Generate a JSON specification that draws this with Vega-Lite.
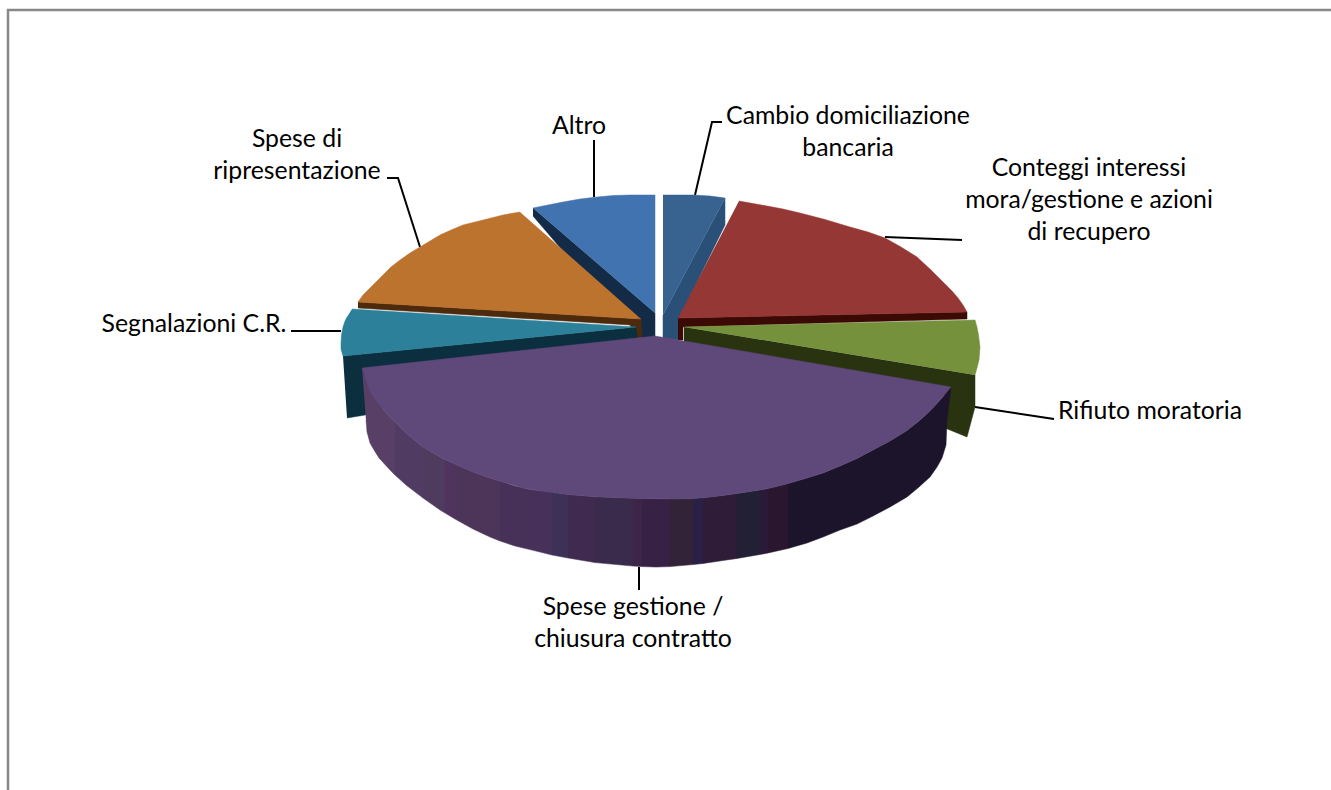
{
"$schema":"https://vega.github.io/schema/vega-lite/v6.json",
"width":1331,"height":790,"padding":0,
"autosize":"none",
"background":"white",
"config":{"view":{"stroke":null}},
"datasets":{
"slices":[
{"part":"altro side","i":1,"x":533,"y":208},{"part":"altro side","i":2,"x":655,"y":313},{"part":"altro side","i":3,"x":655,"y":338},{"part":"altro side","i":4,"x":640,"y":340},{"part":"altro side","i":5,"x":640,"y":322},{"part":"altro side","i":6,"x":560,"y":247.5},{"part":"altro side","i":7,"x":533,"y":216},
{"part":"altro","i":1,"x":533,"y":208},{"part":"altro","i":2,"x":548,"y":205},{"part":"altro","i":3,"x":563,"y":202},{"part":"altro","i":4,"x":580,"y":199},{"part":"altro","i":5,"x":597,"y":197},{"part":"altro","i":6,"x":613,"y":195.5},{"part":"altro","i":7,"x":630,"y":195},{"part":"altro","i":8,"x":655,"y":195},{"part":"altro","i":9,"x":655,"y":313},
{"part":"cambio side","i":1,"x":725,"y":198},{"part":"cambio side","i":2,"x":725,"y":225},{"part":"cambio side","i":3,"x":680,"y":317},{"part":"cambio side","i":4,"x":678,"y":340},{"part":"cambio side","i":5,"x":663,"y":338},{"part":"cambio side","i":6,"x":663,"y":315},
{"part":"cambio","i":1,"x":663,"y":195},{"part":"cambio","i":2,"x":693,"y":195},{"part":"cambio","i":3,"x":710,"y":196},{"part":"cambio","i":4,"x":725,"y":198},{"part":"cambio","i":5,"x":663,"y":315},
{"part":"orange side","i":1,"x":358,"y":302},{"part":"orange side","i":2,"x":641,"y":319},{"part":"orange side","i":3,"x":642,"y":340},{"part":"orange side","i":4,"x":635,"y":340},{"part":"orange side","i":5,"x":630,"y":325},{"part":"orange side","i":6,"x":358,"y":308},
{"part":"orange","i":1,"x":520,"y":212},{"part":"orange","i":2,"x":503,"y":215},{"part":"orange","i":3,"x":487,"y":219},{"part":"orange","i":4,"x":475,"y":222},{"part":"orange","i":5,"x":463,"y":225},{"part":"orange","i":6,"x":451,"y":230},{"part":"orange","i":7,"x":440,"y":235},{"part":"orange","i":8,"x":430,"y":241},{"part":"orange","i":9,"x":420,"y":247},{"part":"orange","i":10,"x":410,"y":253},{"part":"orange","i":11,"x":400,"y":260},{"part":"orange","i":12,"x":391,"y":267},{"part":"orange","i":13,"x":383,"y":275},{"part":"orange","i":14,"x":376,"y":282},{"part":"orange","i":15,"x":370,"y":288},{"part":"orange","i":16,"x":363,"y":295},{"part":"orange","i":17,"x":358,"y":302},{"part":"orange","i":18,"x":641,"y":319},
{"part":"teal side","i":1,"x":343,"y":356},{"part":"teal side","i":2,"x":636,"y":327},{"part":"teal side","i":3,"x":638,"y":342},{"part":"teal side","i":4,"x":400,"y":400},{"part":"teal side","i":5,"x":365,"y":415},{"part":"teal side","i":6,"x":347,"y":418},
{"part":"teal","i":1,"x":352,"y":309},{"part":"teal","i":2,"x":636,"y":327},{"part":"teal","i":3,"x":343,"y":356},{"part":"teal","i":4,"x":341,"y":349},{"part":"teal","i":5,"x":341,"y":343},{"part":"teal","i":6,"x":341.5,"y":335},{"part":"teal","i":7,"x":343,"y":327},{"part":"teal","i":8,"x":345,"y":321},{"part":"teal","i":9,"x":347,"y":317},
{"part":"red side","i":1,"x":678,"y":318},{"part":"red side","i":2,"x":967,"y":312},{"part":"red side","i":3,"x":967,"y":319},{"part":"red side","i":4,"x":683,"y":327},{"part":"red side","i":5,"x":683,"y":340},{"part":"red side","i":6,"x":678,"y":340},
{"part":"red","i":1,"x":739,"y":201},{"part":"red","i":2,"x":753,"y":203.5},{"part":"red","i":3,"x":767,"y":206},{"part":"red","i":4,"x":783,"y":209},{"part":"red","i":5,"x":800,"y":213},{"part":"red","i":6,"x":825,"y":219.5},{"part":"red","i":7,"x":850,"y":227},{"part":"red","i":8,"x":868,"y":232},{"part":"red","i":9,"x":885,"y":238},{"part":"red","i":10,"x":901,"y":247},{"part":"red","i":11,"x":917,"y":257},{"part":"red","i":12,"x":931,"y":270},{"part":"red","i":13,"x":943,"y":282},{"part":"red","i":14,"x":952,"y":291},{"part":"red","i":15,"x":958,"y":298},{"part":"red","i":16,"x":963,"y":305},{"part":"red","i":17,"x":967,"y":312},{"part":"red","i":18,"x":678,"y":318},
{"part":"green side","i":1,"x":684,"y":327},{"part":"green side","i":2,"x":975,"y":375},{"part":"green side","i":3,"x":975,"y":407},{"part":"green side","i":4,"x":967,"y":437},{"part":"green side","i":5,"x":945,"y":428},{"part":"green side","i":6,"x":945,"y":395},{"part":"green side","i":7,"x":684,"y":345},
{"part":"green","i":1,"x":684,"y":327},{"part":"green","i":2,"x":975,"y":320},{"part":"green","i":3,"x":977,"y":327},{"part":"green","i":4,"x":978.5,"y":335},{"part":"green","i":5,"x":980,"y":347},{"part":"green","i":6,"x":979.5,"y":354},{"part":"green","i":7,"x":979,"y":360},{"part":"green","i":8,"x":977,"y":368},{"part":"green","i":9,"x":975,"y":375},
{"part":"rim01","i":1,"x":362,"y":368},{"part":"rim01","i":2,"x":364,"y":374},{"part":"rim01","i":3,"x":366,"y":380},{"part":"rim01","i":4,"x":369,"y":389},{"part":"rim01","i":5,"x":373,"y":397},{"part":"rim01","i":6,"x":381,"y":407},{"part":"rim01","i":7,"x":390,"y":417},{"part":"rim01","i":8,"x":395,"y":422},{"part":"rim01","i":9,"x":395,"y":475},{"part":"rim01","i":10,"x":390,"y":470},{"part":"rim01","i":11,"x":379,"y":458},{"part":"rim01","i":12,"x":374,"y":450},{"part":"rim01","i":13,"x":370,"y":443},{"part":"rim01","i":14,"x":367,"y":432},{"part":"rim01","i":15,"x":366,"y":420},
{"part":"rim02","i":1,"x":395,"y":422},{"part":"rim02","i":2,"x":406,"y":433},{"part":"rim02","i":3,"x":423,"y":447},{"part":"rim02","i":4,"x":423,"y":498},{"part":"rim02","i":5,"x":406,"y":485},{"part":"rim02","i":6,"x":395,"y":475},
{"part":"rim03","i":1,"x":423,"y":447},{"part":"rim03","i":2,"x":440,"y":457},{"part":"rim03","i":3,"x":445,"y":459.5},{"part":"rim03","i":4,"x":445,"y":513},{"part":"rim03","i":5,"x":440,"y":510},{"part":"rim03","i":6,"x":423,"y":498},
{"part":"rim04","i":1,"x":445,"y":459.5},{"part":"rim04","i":2,"x":455,"y":464},{"part":"rim04","i":3,"x":455,"y":519},{"part":"rim04","i":4,"x":445,"y":513},
{"part":"rim05","i":1,"x":455,"y":464},{"part":"rim05","i":2,"x":473,"y":472},{"part":"rim05","i":3,"x":490,"y":478},{"part":"rim05","i":4,"x":500,"y":481},{"part":"rim05","i":5,"x":500,"y":541},{"part":"rim05","i":6,"x":490,"y":537},{"part":"rim05","i":7,"x":473,"y":529},{"part":"rim05","i":8,"x":455,"y":519},
{"part":"rim06","i":1,"x":500,"y":481},{"part":"rim06","i":2,"x":515,"y":486},{"part":"rim06","i":3,"x":530,"y":489.4},{"part":"rim06","i":4,"x":530,"y":549.6},{"part":"rim06","i":5,"x":515,"y":546},{"part":"rim06","i":6,"x":500,"y":541},
{"part":"rim07","i":1,"x":530,"y":489.4},{"part":"rim07","i":2,"x":552,"y":492},{"part":"rim07","i":3,"x":552,"y":555},{"part":"rim07","i":4,"x":530,"y":549.6},
{"part":"rim08","i":1,"x":552,"y":492},{"part":"rim08","i":2,"x":568,"y":494.4},{"part":"rim08","i":3,"x":568,"y":558},{"part":"rim08","i":4,"x":552,"y":555},
{"part":"rim09","i":1,"x":568,"y":494.4},{"part":"rim09","i":2,"x":595,"y":496.8},{"part":"rim09","i":3,"x":595,"y":562.6},{"part":"rim09","i":4,"x":568,"y":558},
{"part":"rim10","i":1,"x":595,"y":496.8},{"part":"rim10","i":2,"x":633,"y":498.3},{"part":"rim10","i":3,"x":633,"y":566.1},{"part":"rim10","i":4,"x":595,"y":562.6},
{"part":"rim11","i":1,"x":633,"y":498.3},{"part":"rim11","i":2,"x":642,"y":498.5},{"part":"rim11","i":3,"x":642,"y":566.6},{"part":"rim11","i":4,"x":633,"y":566.1},
{"part":"rim12","i":1,"x":642,"y":498.5},{"part":"rim12","i":2,"x":670,"y":499},{"part":"rim12","i":3,"x":670,"y":566.6},{"part":"rim12","i":4,"x":656,"y":567},{"part":"rim12","i":5,"x":642,"y":566.6},
{"part":"rim13","i":1,"x":670,"y":499},{"part":"rim13","i":2,"x":693,"y":498.5},{"part":"rim13","i":3,"x":693,"y":564.6},{"part":"rim13","i":4,"x":670,"y":566.6},
{"part":"rim14","i":1,"x":693,"y":498.5},{"part":"rim14","i":2,"x":703,"y":497.8},{"part":"rim14","i":3,"x":703,"y":563.5},{"part":"rim14","i":4,"x":693,"y":564.6},
{"part":"rim15","i":1,"x":703,"y":497.8},{"part":"rim15","i":2,"x":723,"y":495.5},{"part":"rim15","i":3,"x":737,"y":493.4},{"part":"rim15","i":4,"x":737,"y":558.5},{"part":"rim15","i":5,"x":723,"y":560.5},{"part":"rim15","i":6,"x":703,"y":563.5},
{"part":"rim16","i":1,"x":737,"y":493.4},{"part":"rim16","i":2,"x":760,"y":490},{"part":"rim16","i":3,"x":760,"y":554.5},{"part":"rim16","i":4,"x":737,"y":558.5},
{"part":"rim17","i":1,"x":760,"y":490},{"part":"rim17","i":2,"x":768,"y":488.5},{"part":"rim17","i":3,"x":768,"y":553},{"part":"rim17","i":4,"x":760,"y":554.5},
{"part":"rim18","i":1,"x":768,"y":488.5},{"part":"rim18","i":2,"x":788,"y":483.5},{"part":"rim18","i":3,"x":788,"y":548.5},{"part":"rim18","i":4,"x":768,"y":553},
{"part":"rim19","i":1,"x":788,"y":483.5},{"part":"rim19","i":2,"x":807,"y":478},{"part":"rim19","i":3,"x":823,"y":473},{"part":"rim19","i":4,"x":840,"y":466},{"part":"rim19","i":5,"x":857,"y":458.5},{"part":"rim19","i":6,"x":873,"y":450},{"part":"rim19","i":7,"x":890,"y":441},{"part":"rim19","i":8,"x":907,"y":430.5},{"part":"rim19","i":9,"x":919,"y":421},{"part":"rim19","i":10,"x":930,"y":411},{"part":"rim19","i":11,"x":941,"y":399},{"part":"rim19","i":12,"x":951,"y":387},{"part":"rim19","i":13,"x":947,"y":420},{"part":"rim19","i":14,"x":946,"y":445},{"part":"rim19","i":15,"x":942,"y":458},{"part":"rim19","i":16,"x":937,"y":467},{"part":"rim19","i":17,"x":930,"y":477},{"part":"rim19","i":18,"x":919,"y":487},{"part":"rim19","i":19,"x":907,"y":497},{"part":"rim19","i":20,"x":890,"y":507},{"part":"rim19","i":21,"x":873,"y":516},{"part":"rim19","i":22,"x":857,"y":524},{"part":"rim19","i":23,"x":840,"y":530},{"part":"rim19","i":24,"x":823,"y":537},{"part":"rim19","i":25,"x":807,"y":543},{"part":"rim19","i":26,"x":788,"y":548.5},
{"part":"purple","i":1,"x":362,"y":368},{"part":"purple","i":2,"x":655,"y":336},{"part":"purple","i":3,"x":951,"y":387},{"part":"purple","i":4,"x":941,"y":399},{"part":"purple","i":5,"x":930,"y":411},{"part":"purple","i":6,"x":919,"y":421},{"part":"purple","i":7,"x":907,"y":430.5},{"part":"purple","i":8,"x":890,"y":441},{"part":"purple","i":9,"x":873,"y":450},{"part":"purple","i":10,"x":857,"y":458.5},{"part":"purple","i":11,"x":840,"y":466},{"part":"purple","i":12,"x":823,"y":473},{"part":"purple","i":13,"x":807,"y":478},{"part":"purple","i":14,"x":790,"y":483},{"part":"purple","i":15,"x":773,"y":487.5},{"part":"purple","i":16,"x":757,"y":490.5},{"part":"purple","i":17,"x":740,"y":493},{"part":"purple","i":18,"x":723,"y":495.5},{"part":"purple","i":19,"x":707,"y":497.5},{"part":"purple","i":20,"x":690,"y":498.7},{"part":"purple","i":21,"x":673,"y":499},{"part":"purple","i":22,"x":640,"y":498.5},{"part":"purple","i":23,"x":623,"y":498},{"part":"purple","i":24,"x":598,"y":497},{"part":"purple","i":25,"x":573,"y":495},{"part":"purple","i":26,"x":548,"y":492},{"part":"purple","i":27,"x":523,"y":488},{"part":"purple","i":28,"x":506,"y":483},{"part":"purple","i":29,"x":490,"y":478},{"part":"purple","i":30,"x":473,"y":472},{"part":"purple","i":31,"x":457,"y":465},{"part":"purple","i":32,"x":440,"y":457},{"part":"purple","i":33,"x":423,"y":447},{"part":"purple","i":34,"x":406,"y":433},{"part":"purple","i":35,"x":390,"y":417},{"part":"purple","i":36,"x":381,"y":407},{"part":"purple","i":37,"x":373,"y":397},{"part":"purple","i":38,"x":369,"y":389},{"part":"purple","i":39,"x":366,"y":380},{"part":"purple","i":40,"x":364,"y":374}
],
"leaders":[
{"name":"cambio","i":1,"x":722,"y":122},{"name":"cambio","i":2,"x":712,"y":122},{"name":"cambio","i":3,"x":695,"y":195},
{"name":"conteggi","i":1,"x":885,"y":237},{"name":"conteggi","i":2,"x":962,"y":240},
{"name":"rifiuto","i":1,"x":975,"y":407},{"name":"rifiuto","i":2,"x":1054,"y":419},
{"name":"gestione","i":1,"x":639,"y":567},{"name":"gestione","i":2,"x":639,"y":590},
{"name":"segnalazioni","i":1,"x":341,"y":331},{"name":"segnalazioni","i":2,"x":291,"y":331},
{"name":"ripresentazione","i":1,"x":387,"y":178},{"name":"ripresentazione","i":2,"x":398,"y":178},{"name":"ripresentazione","i":3,"x":420,"y":247},
{"name":"altro","i":1,"x":594,"y":140},{"name":"altro","i":2,"x":594,"y":197}
],
"frame":[{"i":1,"x":8,"y":790},{"i":2,"x":8,"y":10},{"i":3,"x":1331,"y":10}],
"labels":[
{"label":"Cambio domiciliazione\nbancaria","x":848,"y":117},
{"label":"Conteggi interessi\nmora/gestione e azioni\ndi recupero","x":1089,"y":169},
{"label":"Rifiuto moratoria","x":1150,"y":412},
{"label":"Spese gestione /\nchiusura contratto","x":633,"y":608},
{"label":"Segnalazioni C.R.","x":194,"y":325},
{"label":"Spese di\nripresentazione","x":297,"y":140},
{"label":"Altro","x":579,"y":127}
]
},
"encoding":{
"x":{"field":"x","type":"quantitative","axis":null,"scale":{"domain":[0,1331],"nice":false,"zero":false}},
"y":{"field":"y","type":"quantitative","axis":null,"scale":{"domain":[0,790],"reverse":true,"nice":false,"zero":false}}
},
"layer":[
{"data":{"name":"frame"},"mark":{"type":"line","stroke":"#888888","strokeWidth":2.5},"encoding":{"order":{"field":"i","type":"quantitative"}}},
{"data":{"name":"leaders"},"mark":{"type":"line","stroke":"#000000","strokeWidth":2},"encoding":{"detail":{"field":"name"},"order":{"field":"i","type":"quantitative"}}},
{"data":{"name":"slices"},"mark":{"type":"line","strokeWidth":0.5},
"encoding":{
"order":{"field":"i","type":"quantitative"},
"fill":{"field":"part","type":"nominal","legend":null,"sort":null,"scale":{"domain":["altro side","altro","cambio side","cambio","orange side","orange","teal side","teal","red side","red","green side","green","rim01","rim02","rim03","rim04","rim05","rim06","rim07","rim08","rim09","rim10","rim11","rim12","rim13","rim14","rim15","rim16","rim17","rim18","rim19","purple"],"range":["#142b47","#4073af","#2a5078","#386290","#4d2a0c","#bc732e","#0b2f3f","#2c809a","#3b0a05","#953735","#2a3310","#76913c","#583f66","#503c63","#4e3b5e","#50345f","#4c3559","#483159","#47305a","#3e3158","#412a4f","#3a2a4c","#3e2448","#372145","#332338","#2a1f44","#2e1c38","#232035","#2a1a38","#2a172f","#1c142a","#5f497a"]}},
"stroke":{"field":"part","type":"nominal","legend":null,"sort":null,"scale":{"domain":["altro side","altro","cambio side","cambio","orange side","orange","teal side","teal","red side","red","green side","green","rim01","rim02","rim03","rim04","rim05","rim06","rim07","rim08","rim09","rim10","rim11","rim12","rim13","rim14","rim15","rim16","rim17","rim18","rim19","purple"],"range":["#142b47","#4073af","#2a5078","#386290","#4d2a0c","#bc732e","#0b2f3f","#2c809a","#3b0a05","#953735","#2a3310","#76913c","#583f66","#503c63","#4e3b5e","#50345f","#4c3559","#483159","#47305a","#3e3158","#412a4f","#3a2a4c","#3e2448","#372145","#332338","#2a1f44","#2e1c38","#232035","#2a1a38","#2a172f","#1c142a","#5f497a"]}}
}},
{"data":{"name":"labels"},"mark":{"type":"text","font":"Lato","fontSize":24.8,"lineHeight":32,"lineBreak":"\n","align":"center","baseline":"middle","color":"#000000"},"encoding":{"text":{"field":"label"}}}
]
}
